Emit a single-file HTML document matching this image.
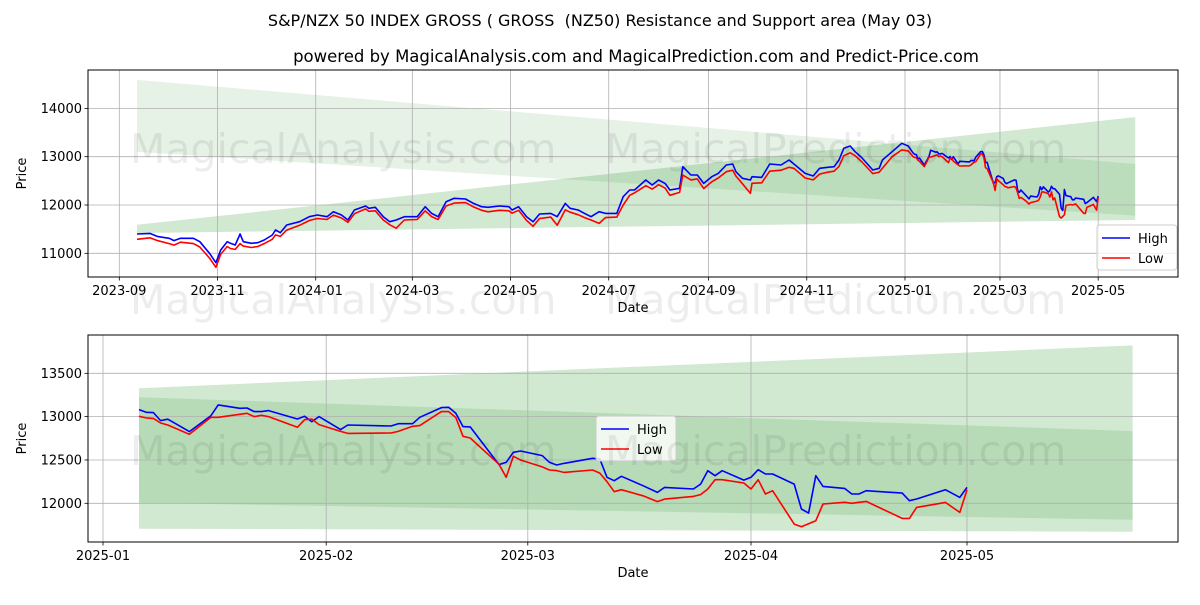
<!DOCTYPE html>
<html><head><meta charset="utf-8"><style>
body{margin:0;background:#fff;}
svg text{font-family:"DejaVu Sans","Liberation Sans",sans-serif;white-space:pre;}
</style></head><body>
<svg id="chart" width="1200" height="600" xmlns="http://www.w3.org/2000/svg">
<text x="600" y="26" text-anchor="middle" font-size="16" xml:space="preserve">S&amp;P/NZX 50 INDEX GROSS ( GROSS  (NZ50) Resistance and Support area (May 03)</text>
<text x="636" y="62" text-anchor="middle" font-size="16.5">powered by MagicalAnalysis.com and MagicalPrediction.com and Predict-Price.com</text>
<g id="top"></g>
<g id="bot"></g>
<g fill="#000" fill-opacity="0.07" font-size="41">
<text x="130" y="163">MagicalAnalysis.com</text><text x="605" y="163">MagicalPrediction.com</text>
<text x="130" y="314">MagicalAnalysis.com</text><text x="605" y="314">MagicalPrediction.com</text>
<text x="130" y="465">MagicalAnalysis.com</text><text x="605" y="465">MagicalPrediction.com</text>
</g>
</svg>
<script>
const earlyDates=["2023-09-12","2023-09-20","2023-09-25","2023-10-02","2023-10-05","2023-10-09","2023-10-17","2023-10-21","2023-10-27","2023-10-31","2023-11-03","2023-11-07","2023-11-09","2023-11-12","2023-11-15","2023-11-17","2023-11-22","2023-11-26","2023-11-30","2023-12-05","2023-12-07","2023-12-10","2023-12-14","2023-12-22","2023-12-28","2024-01-02","2024-01-08","2024-01-12","2024-01-17","2024-01-21","2024-01-25","2024-02-01","2024-02-03","2024-02-07","2024-02-12","2024-02-16","2024-02-20","2024-02-25","2024-03-04","2024-03-09","2024-03-13","2024-03-17","2024-03-22","2024-03-27","2024-04-03","2024-04-08","2024-04-13","2024-04-17","2024-04-24","2024-04-30","2024-05-02","2024-05-06","2024-05-11","2024-05-15","2024-05-19","2024-05-26","2024-05-30","2024-06-04","2024-06-07","2024-06-12","2024-06-16","2024-06-20","2024-06-25","2024-06-29","2024-07-06","2024-07-10","2024-07-14","2024-07-17","2024-07-24","2024-07-28","2024-08-01","2024-08-05","2024-08-08","2024-08-14","2024-08-16","2024-08-21","2024-08-25","2024-08-29","2024-09-03","2024-09-07","2024-09-12","2024-09-16","2024-09-18","2024-09-22","2024-09-27","2024-09-28","2024-10-04","2024-10-09","2024-10-16","2024-10-21","2024-10-24","2024-10-31","2024-11-05","2024-11-09","2024-11-14","2024-11-18","2024-11-21","2024-11-24","2024-11-28","2024-12-01","2024-12-05","2024-12-12","2024-12-16","2024-12-18","2024-12-24","2024-12-30","2025-01-03"];
const earlyHigh=[11400,11413,11345,11310,11262,11310,11310,11241,11000,10806,11069,11241,11207,11172,11400,11241,11207,11220,11275,11379,11482,11427,11586,11655,11758,11793,11758,11862,11793,11690,11896,11979,11931,11952,11758,11655,11690,11758,11758,11965,11827,11758,12069,12138,12124,12034,11965,11952,11979,11965,11896,11965,11758,11655,11814,11827,11758,12034,11931,11896,11827,11758,11862,11827,11827,12172,12310,12310,12517,12414,12517,12448,12310,12345,12793,12621,12621,12448,12586,12655,12828,12849,12690,12552,12517,12586,12572,12849,12828,12931,12849,12655,12600,12759,12780,12793,12931,13173,13221,13104,12986,12724,12759,12931,13104,13277,13221];
const earlyLow=[11290,11320,11260,11200,11170,11230,11200,11130,10900,10710,10980,11140,11100,11080,11200,11150,11120,11140,11200,11290,11380,11350,11480,11580,11680,11720,11700,11790,11730,11640,11820,11920,11870,11880,11690,11590,11520,11690,11700,11880,11760,11700,11980,12040,12050,11960,11890,11860,11890,11880,11830,11890,11680,11560,11720,11750,11580,11900,11850,11800,11740,11690,11620,11740,11750,12000,12200,12250,12400,12330,12420,12350,12200,12260,12620,12520,12540,12340,12480,12560,12690,12720,12600,12440,12240,12450,12460,12700,12720,12780,12760,12560,12520,12640,12680,12700,12800,13020,13080,13020,12900,12650,12680,12760,13000,13140,13120];
const recentDates=["2025-01-06","2025-01-07","2025-01-08","2025-01-09","2025-01-10","2025-01-13","2025-01-16","2025-01-17","2025-01-20","2025-01-21","2025-01-22","2025-01-23","2025-01-24","2025-01-28","2025-01-29","2025-01-30","2025-01-31","2025-02-03","2025-02-04","2025-02-10","2025-02-11","2025-02-13","2025-02-14","2025-02-17","2025-02-18","2025-02-19","2025-02-20","2025-02-21","2025-02-25","2025-02-26","2025-02-27","2025-02-28","2025-03-03","2025-03-04","2025-03-05","2025-03-06","2025-03-10","2025-03-11","2025-03-12","2025-03-13","2025-03-14","2025-03-17","2025-03-19","2025-03-20","2025-03-24","2025-03-25","2025-03-26","2025-03-27","2025-03-28","2025-03-31","2025-04-01","2025-04-02","2025-04-03","2025-04-04","2025-04-07","2025-04-08","2025-04-09","2025-04-10","2025-04-11","2025-04-14","2025-04-15","2025-04-16","2025-04-17","2025-04-22","2025-04-23","2025-04-24","2025-04-28","2025-04-30","2025-05-01"];
const recentHigh=[13081,13050,13046,12954,12970,12827,13012,13135,13096,13100,13058,13058,13069,12973,13004,12942,13000,12850,12904,12892,12919,12919,12992,13104,13108,13038,12885,12881,12446,12473,12588,12603,12550,12473,12442,12460,12519,12511,12300,12261,12311,12203,12126,12184,12165,12222,12376,12319,12376,12268,12300,12388,12338,12338,12222,11934,11887,12319,12195,12172,12107,12107,12145,12118,12030,12050,12157,12068,12184];
const recentLow=[13004,12985,12980,12927,12904,12796,12992,12992,13027,13038,13000,13015,13000,12877,12965,12973,12908,12830,12807,12811,12830,12888,12896,13058,13058,12990,12773,12754,12450,12300,12542,12500,12420,12384,12377,12357,12384,12349,12249,12134,12157,12087,12020,12049,12080,12100,12165,12272,12272,12234,12165,12272,12107,12145,11760,11730,11765,11799,11992,12011,12000,12011,12022,11826,11826,11953,12010,11895,12157];
const topBandDates=["2023-09-12","2025-05-24"];
const topResTop=[14590,12850], topResBot=[13100,11780];
const topSupTop=[11590,13820], topSupBot=[11420,11690];
const botBandDates=["2025-01-06","2025-05-24"];
const botATop=[13328,13822], botABot=[11707,11672];
const botBTop=[13224,12833], botBBot=[12006,11810];
const topYTicks=[11000,12000,13000,14000];
const topXTicks=["2023-09","2023-11","2024-01","2024-03","2024-05","2024-07","2024-09","2024-11","2025-01","2025-03","2025-05"];
const botYTicks=[12000,12500,13000,13500];
const botXTicks=["2025-01","2025-02","2025-03","2025-04","2025-05"];

const NS="http://www.w3.org/2000/svg";
const day=s=>{const p=s.split("-").map(Number);return Date.UTC(p[0],p[1]-1,p[2]||1)/864e5;};
function mk(parent,tag,attrs){const e=document.createElementNS(NS,tag);for(const k in attrs)e.setAttribute(k,attrs[k]);parent.appendChild(e);return e;}

function panel(g,cfg){
  const {L,R,T,B,x,y}=cfg;
  const clip=mk(g,"clipPath",{id:cfg.id+"clip"});mk(clip,"rect",{x:L,y:T,width:R-L,height:B-T});
  cfg.bands.forEach(b=>{
    const d0=day(b.dates[0]),d1=day(b.dates[1]);
    const p=mk(g,"polygon",{points:`${x(d0)},${y(b.top[0])} ${x(d1)},${y(b.top[1])} ${x(d1)},${y(b.bot[1])} ${x(d0)},${y(b.bot[0])}`,fill:"#008000","fill-opacity":b.op});
    
    
  });
  cfg.yt.forEach(v=>{
    const l=mk(g,"line",{x1:L,x2:R,y1:y(v),y2:y(v),stroke:"#b0b0b0","stroke-width":0.8});
    
    
    mk(g,"line",{x1:L-3.5,x2:L,y1:y(v),y2:y(v),stroke:"#000","stroke-width":0.8});
    const t=mk(g,"text",{x:L-6,y:y(v)+4.5,"text-anchor":"end","font-size":13});t.textContent=v;
    
    
  });
  cfg.xt.forEach(s=>{
    const xv=x(day(s+"-01"));
    const l=mk(g,"line",{x1:xv,x2:xv,y1:T,y2:B,stroke:"#b0b0b0","stroke-width":0.8});
    
    
    mk(g,"line",{x1:xv,x2:xv,y1:B,y2:B+3.5,stroke:"#000","stroke-width":0.8});
    const t=mk(g,"text",{x:xv,y:B+18,"text-anchor":"middle","font-size":13});t.textContent=s;
    
    
  });
  cfg.series.forEach(sr=>{
    const pts=sr.dates.map((d,i)=>`${x(day(d)).toFixed(1)},${y(sr.vals[i]).toFixed(1)}`).join(" ");
    const pl=mk(g,"polyline",{points:pts,fill:"none",stroke:sr.color,"stroke-width":1.6,"clip-path":`url(#${cfg.id}clip)`,"stroke-linejoin":"round"});
    
    
  });
  const fr=mk(g,"rect",{x:L,y:T,width:R-L,height:B-T,fill:"none",stroke:"#000","stroke-width":1});
  
  
  const xl=mk(g,"text",{x:(L+R)/2,y:B+35,"text-anchor":"middle","font-size":13});xl.textContent="Date";
  
  
  const yl=mk(g,"text",{x:0,y:0,"text-anchor":"middle","font-size":13,transform:`translate(26,${(T+B)/2}) rotate(-90)`});yl.textContent="Price";
  
  
  const lg=mk(g,"g",{});
  
  
  mk(lg,"rect",{x:cfg.lx,y:cfg.ly,width:80,height:45,rx:3,fill:"#fff","fill-opacity":0.8,stroke:"#ccc"});
  [["High","#0000ff"],["Low","#ff0000"]].forEach((e,i)=>{
    const yy=cfg.ly+13+i*20;
    const ln=mk(lg,"line",{x1:cfg.lx+5,x2:cfg.lx+33,y1:yy,y2:yy,stroke:e[1],"stroke-width":1.6});
    
    
    const t=mk(lg,"text",{x:cfg.lx+41,y:yy+5,"font-size":13});t.textContent=e[0];
    
    
  });
}

const allDates=earlyDates.concat(recentDates), allHigh=earlyHigh.concat(recentHigh), allLow=earlyLow.concat(recentLow);
const tD0=day("2023-09-01");
panel(document.getElementById("top"),{id:"t",L:88,R:1178,T:70,B:277,
  x:d=>119.3+(d-tD0)*1.61, y:v=>205-(v-12000)*0.0483,
  yt:topYTicks, xt:topXTicks, lx:1097, ly:225,
  bands:[{name:"resistance-band",dates:topBandDates,top:topResTop,bot:topResBot,op:0.1},
         {name:"support-band",dates:topBandDates,top:topSupTop,bot:topSupBot,op:0.18}],
  series:[{name:"high-line",dates:allDates,vals:allHigh,color:"#0000ff"},{name:"low-line",dates:allDates,vals:allLow,color:"#ff0000"}]});
const bD0=day("2025-01-01");
panel(document.getElementById("bot"),{id:"b",L:88,R:1178,T:335,B:542,
  x:d=>103+(d-bD0)*7.2, y:v=>503.3-(v-12000)*0.08667,
  yt:botYTicks, xt:botXTicks, lx:596, ly:416,
  bands:[{name:"support-band",dates:botBandDates,top:botATop,bot:botABot,op:0.18},
         {name:"resistance-band",dates:botBandDates,top:botBTop,bot:botBBot,op:0.13}],
  series:[{name:"high-line",dates:recentDates,vals:recentHigh,color:"#0000ff"},{name:"low-line",dates:recentDates,vals:recentLow,color:"#ff0000"}]});
</script>
</body></html>
